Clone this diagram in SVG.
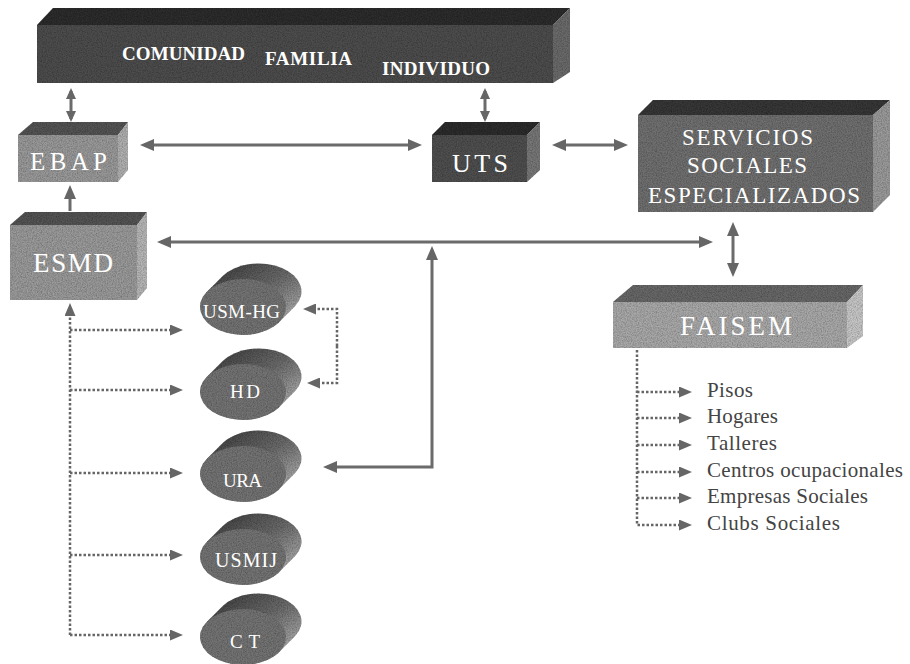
<svg xmlns="http://www.w3.org/2000/svg" width="910" height="664" viewBox="0 0 910 664" font-family="Liberation Serif, Times New Roman, serif">
<defs>
<style>
text{font-family:"Liberation Serif","Times New Roman",serif}
.lbl{fill:#fff}
.bold{font-weight:bold}
.list{fill:#444;font-size:21px}
.sol{fill:none;stroke:#6b6b6b;stroke-width:3}
.dot{fill:none;stroke:#666;stroke-width:2.5;stroke-dasharray:2.5 2}
.front{fill:#737373}
.body{fill:url(#side)}
</style>
<filter id="grain" x="0" y="0" width="1" height="1">
<feTurbulence type="fractalNoise" baseFrequency="0.8" numOctaves="2" seed="4" result="n"/>
<feColorMatrix in="n" type="matrix" values="0 0 0 0 0  0 0 0 0 0  0 0 0 0 0  0.9 0 0 0 -0.3" result="a"/>
<feComposite in="a" in2="SourceGraphic" operator="in" result="g"/>
<feMerge><feMergeNode in="SourceGraphic"/><feMergeNode in="g"/></feMerge>
</filter>
<marker id="ah" viewBox="0 0 14 12" refX="10" refY="6" markerWidth="14" markerHeight="12" markerUnits="userSpaceOnUse" orient="auto-start-reverse"><path d="M0,0 L14,6 L0,12 z" fill="#666"/></marker>
<marker id="as" viewBox="0 0 11 10" refX="8" refY="5" markerWidth="11" markerHeight="10" markerUnits="userSpaceOnUse" orient="auto-start-reverse"><path d="M0,0 L11,5 L0,10 z" fill="#666"/></marker>
<marker id="ad" viewBox="0 0 13 11" refX="9" refY="5.5" markerWidth="13" markerHeight="11" markerUnits="userSpaceOnUse" orient="auto-start-reverse"><path d="M0,0 L13,5.5 L0,11 z" fill="#666"/></marker>
<linearGradient id="side" x1="0.3" y1="0" x2="0.95" y2="0.7">
<stop offset="0" stop-color="#454545"/><stop offset="0.5" stop-color="#6a6a6a"/><stop offset="1" stop-color="#a8a8a8"/>
</linearGradient>
</defs>

<g id="comunidad">
<g filter="url(#grain)">
<polygon points="37,25 53,8 570,8 553,25" fill="#2f2f2f"/>
<polygon points="553,25 570,8 570,72 553,83" fill="#6a6a6a"/>
<rect x="37" y="25" width="516" height="58" fill="#4d4d4d"/>
</g>
<text class="lbl bold" x="122" y="60" font-size="19" textLength="123">COMUNIDAD</text>
<text class="lbl bold" x="265" y="65" font-size="19" textLength="87">FAMILIA</text>
<text class="lbl bold" x="382" y="75" font-size="19" textLength="108">INDIVIDUO</text>
</g>

<g id="ebap">
<g filter="url(#grain)">
<polygon points="18,135 33,122 128,122 118,135" fill="#555"/>
<polygon points="118,135 128,122 128,170 118,182" fill="#b0b0b0"/>
<rect x="18" y="135" width="100" height="47" fill="#999"/>
</g>
<text class="lbl" x="30" y="170" font-size="25" textLength="77">EBAP</text>
</g>

<g id="esmd">
<g filter="url(#grain)">
<polygon points="10,225 25,212 147,212 137,225" fill="#555"/>
<polygon points="137,225 147,212 147,288 137,300" fill="#b5b5b5"/>
<rect x="10" y="225" width="127" height="75" fill="#9a9a9a"/>
</g>
<text class="lbl" x="33" y="272" font-size="27" textLength="80">ESMD</text>
</g>

<g id="uts">
<g filter="url(#grain)">
<polygon points="432,135 445,122 540,122 527,135" fill="#2e2e2e"/>
<polygon points="527,135 540,122 540,170 527,182" fill="#777"/>
<rect x="432" y="135" width="95" height="47" fill="#505050"/>
</g>
<text class="lbl" x="452" y="172" font-size="26" textLength="56">UTS</text>
</g>

<g id="servicios">
<g filter="url(#grain)">
<polygon points="638,115 653,100 890,100 873,115" fill="#383838"/>
<polygon points="873,115 890,100 890,195 873,212" fill="#9a9a9a"/>
<rect x="638" y="115" width="235" height="97" fill="#707070"/>
</g>
<text class="lbl" x="682" y="145" font-size="23" textLength="131">SERVICIOS</text>
<text class="lbl" x="687" y="173" font-size="23" textLength="120">SOCIALES</text>
<text class="lbl" x="648" y="203" font-size="23" textLength="212">ESPECIALIZADOS</text>
</g>

<g id="faisem">
<g filter="url(#grain)">
<polygon points="613,302 633,285 863,285 847,302" fill="#676767"/>
<polygon points="847,302 863,285 863,336 847,348" fill="#c6c6c6"/>
<rect x="613" y="302" width="234" height="46" fill="#a8a8a8"/>
</g>
<text class="lbl" x="680" y="335" font-size="27" textLength="112">FAISEM</text>
</g>

<g id="usm-hg">
<g filter="url(#grain)">
<path class="body" d="M279,322.3 L295,306.3 A43 28 0 0 0 223,275.7 L207,291.7 A43 28 0 0 0 279,322.3 Z"/>
<ellipse class="front" cx="243" cy="307" rx="43" ry="28"/>
</g>
<text class="lbl" x="203" y="318" font-size="19" textLength="77">USM-HG</text>
</g>

<g id="hd">
<g filter="url(#grain)">
<path class="body" d="M279,407.3 L295,391.3 A43 28 0 0 0 223,360.7 L207,376.7 A43 28 0 0 0 279,407.3 Z"/>
<ellipse class="front" cx="243" cy="392" rx="43" ry="28"/>
</g>
<text class="lbl" x="230" y="398" font-size="19" textLength="30">HD</text>
</g>

<g id="ura">
<g filter="url(#grain)">
<path class="body" d="M279,489.3 L295,473.3 A43 28 0 0 0 223,442.7 L207,458.7 A43 28 0 0 0 279,489.3 Z"/>
<ellipse class="front" cx="243" cy="474" rx="43" ry="28"/>
</g>
<text class="lbl" x="223" y="487" font-size="19" textLength="39">URA</text>
</g>

<g id="usmij">
<g filter="url(#grain)">
<path class="body" d="M279,572.3 L295,556.3 A43 28 0 0 0 223,525.7 L207,541.7 A43 28 0 0 0 279,572.3 Z"/>
<ellipse class="front" cx="243" cy="557" rx="43" ry="28"/>
</g>
<text class="lbl" x="215" y="567" font-size="20" textLength="62">USMIJ</text>
</g>

<g id="ct">
<g filter="url(#grain)">
<path class="body" d="M279,652.3 L295,636.3 A43 28 0 0 0 223,605.7 L207,621.7 A43 28 0 0 0 279,652.3 Z"/>
<ellipse class="front" cx="243" cy="637" rx="43" ry="28"/>
</g>
<text class="lbl" x="230" y="648" font-size="19" textLength="30">CT</text>
</g>

<g id="faisem-list">
<text class="list" x="707" y="397" textLength="46">Pisos</text>
<text class="list" x="707" y="423" textLength="71">Hogares</text>
<text class="list" x="707" y="450" textLength="70">Talleres</text>
<text class="list" x="707" y="477" textLength="196">Centros ocupacionales</text>
<text class="list" x="707" y="503" textLength="161">Empresas Sociales</text>
<text class="list" x="707" y="530" textLength="133">Clubs Sociales</text>
</g>

<g id="connectors">
<path class="sol" d="M71,91 V119" marker-start="url(#as)" marker-end="url(#as)"/>
<path class="sol" d="M485,91 V119" marker-start="url(#as)" marker-end="url(#as)"/>
<path class="sol" d="M144,145 H418" marker-start="url(#ah)" marker-end="url(#ah)"/>
<path class="sol" d="M556,145 H624" marker-start="url(#ah)" marker-end="url(#ah)"/>
<path class="sol" d="M70,211 V189" marker-end="url(#ah)"/>
<path class="sol" d="M161,242 H709" marker-start="url(#ah)" marker-end="url(#ah)"/>
<path class="sol" d="M327,467 H432 V250" marker-start="url(#ah)" marker-end="url(#ah)"/>
<path class="sol" d="M733,226 V273" marker-start="url(#ah)" marker-end="url(#ah)"/>

<path class="dot" d="M70,635 V307" marker-end="url(#ad)"/>
<path class="dot" d="M70,330 H179" marker-end="url(#ad)"/>
<path class="dot" d="M70,390 H179" marker-end="url(#ad)"/>
<path class="dot" d="M70,473 H179" marker-end="url(#ad)"/>
<path class="dot" d="M70,555 H179" marker-end="url(#ad)"/>
<path class="dot" d="M70,635 H179" marker-end="url(#ad)"/>

<path class="dot" d="M337,346 V309 H307" marker-end="url(#ad)"/>
<path class="dot" d="M337,346 V383 H311" marker-end="url(#ad)"/>

<path class="dot" d="M637,350 V525 H688" marker-end="url(#ad)"/>
<path class="dot" d="M637,392 H688" marker-end="url(#ad)"/>
<path class="dot" d="M637,418 H688" marker-end="url(#ad)"/>
<path class="dot" d="M637,445 H688" marker-end="url(#ad)"/>
<path class="dot" d="M637,472 H688" marker-end="url(#ad)"/>
<path class="dot" d="M637,498 H688" marker-end="url(#ad)"/>
</g>
</svg>
